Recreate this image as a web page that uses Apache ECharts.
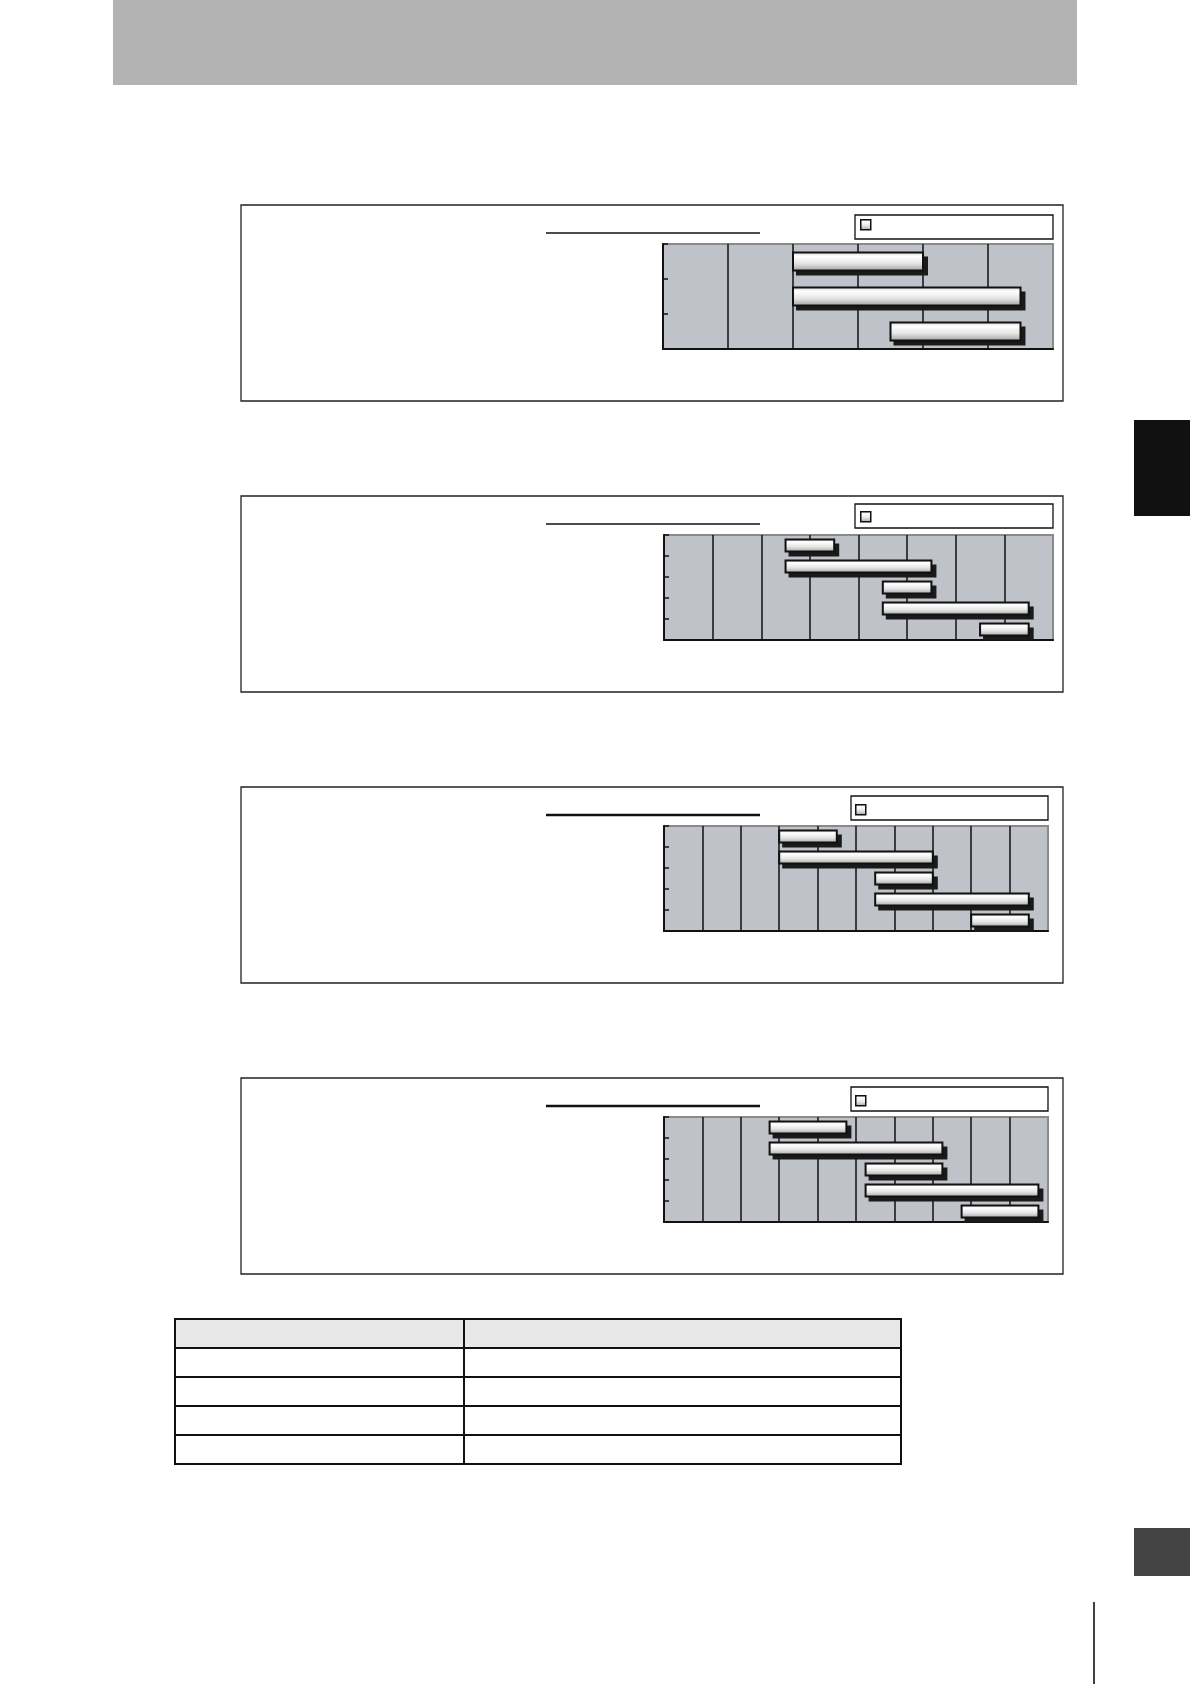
<!DOCTYPE html>
<html>
<head>
<meta charset="utf-8">
<script src="https://cdn.jsdelivr.net/npm/echarts@6/dist/echarts.min.js"></script>
<style>
  html, body { margin: 0; padding: 0; background: #fff; }
  #page { width: 1190px; height: 1684px; }
</style>
</head>
<body>
<div id="page"></div>
<script>
// chart 1 (3 rows, 6 columns)
var cats1 = ['1', '2', '3'];
var start1 = [2, 2, 3.5];
var end1 = [4, 5.5, 5.5];
var max1 = 6;

// chart 2 (5 rows, 8 columns)
var cats2 = ['1', '2', '3', '4', '5'];
var start2 = [2.5, 2.5, 4.5, 4.5, 6.5];
var end2 = [3.5, 5.5, 5.5, 7.5, 7.5];
var max2 = 8;

// chart 3 (5 rows, 10 columns)
var cats3 = ['1', '2', '3', '4', '5'];
var start3 = [3, 3, 5.5, 5.5, 8];
var end3 = [4.5, 7, 7, 9.5, 9.5];
var max3 = 10;

// chart 4 (5 rows, 10 columns)
var cats4 = ['1', '2', '3', '4', '5'];
var start4 = [2.75, 2.75, 5.25, 5.25, 7.75];
var end4 = [4.75, 7.25, 7.25, 9.75, 9.75];
var max4 = 10;

var charts = [
  { cats: cats1, start: start1, end: end1, max: max1, grid: [663, 244, 390, 105], bar: 18, box: [241, 205], legend: [856, 215, 855, 1053, 215], line: 233, lw: 1.5 },
  { cats: cats2, start: start2, end: end2, max: max2, grid: [664, 535, 389, 105], bar: 12, box: [241, 496], legend: [856, 507, 855, 1053, 504], line: 524, lw: 1.5 },
  { cats: cats3, start: start3, end: end3, max: max3, grid: [664, 826, 384, 105], bar: 12, box: [241, 787], legend: [851, 800, 851, 1048, 796], line: 815, lw: 2.5 },
  { cats: cats4, start: start4, end: end4, max: max4, grid: [664, 1117, 384, 105], bar: 12, box: [241, 1078], legend: [851, 1091, 851, 1048, 1087], line: 1106, lw: 2.5 }
];

function barFill() {
  return new echarts.graphic.LinearGradient(0, 0, 0, 1, [
    { offset: 0, color: '#d6d6d6' },
    { offset: 0.25, color: '#ffffff' },
    { offset: 0.6, color: '#e4e4e4' },
    { offset: 1, color: '#9c9c9c' }
  ]);
}

// floating bar with a hard drop shadow, placed through the axes
function makeRender(barH) {
  return function (params, api) {
    var a = api.coord([api.value(1), api.value(0)]);
    var b = api.coord([api.value(2), api.value(0)]);
    var x = a[0], w = b[0] - a[0], y = a[1] - barH / 2;
    return {
      type: 'group',
      children: [
        { type: 'rect', shape: { x: x + 3, y: y + 4, width: w + 2, height: barH + 1 }, style: { fill: '#1a1a1a' } },
        { type: 'rect', shape: { x: x, y: y, width: w, height: barH }, style: { fill: barFill(), stroke: '#111', lineWidth: 2 } }
      ]
    };
  };
}

var grids = [], xAxes = [], yAxes = [], series = [], legends = [];
var graphics = [
  // header band
  { type: 'rect', shape: { x: 113, y: 0, width: 964, height: 85 }, style: { fill: '#b3b3b3' } },
  // side tabs
  { type: 'rect', shape: { x: 1134, y: 420, width: 56, height: 96 }, style: { fill: '#111' } },
  { type: 'rect', shape: { x: 1134, y: 1528, width: 56, height: 48 }, style: { fill: '#444' } },
  { type: 'line', shape: { x1: 1094, y1: 1602, x2: 1094, y2: 1684 }, style: { stroke: '#000', lineWidth: 1.5 } }
];

charts.forEach(function (c, i) {
  grids.push({
    left: c.grid[0], top: c.grid[1], width: c.grid[2], height: c.grid[3],
    show: true, backgroundColor: '#bfc2c8', borderColor: '#8a8a8a', borderWidth: 2
  });
  var splitColors = [];
  for (var k = 0; k <= c.max; k++) {
    splitColors.push(k === c.max ? '#8a8a8a' : '#111');
  }
  xAxes.push({
    gridIndex: i, type: 'value', min: 0, max: c.max, interval: 1,
    axisLine: { show: true, lineStyle: { color: '#111', width: 2 } },
    axisTick: { show: false },
    axisLabel: { show: false },
    splitLine: { show: true, lineStyle: { color: splitColors, width: 1.5 } }
  });
  yAxes.push({
    gridIndex: i, type: 'category', data: c.cats, inverse: true,
    axisLine: { show: true, lineStyle: { color: '#111', width: 2 } },
    axisTick: { show: true, inside: true, length: 5, lineStyle: { color: '#111', width: 1.5 } },
    axisLabel: { show: false },
    splitLine: { show: false }
  });
  series.push({
    type: 'custom', name: 'range' + i, xAxisIndex: i, yAxisIndex: i,
    renderItem: makeRender(c.bar),
    encode: { x: [1, 2], y: 0 },
    itemStyle: { color: '#e8e8e8' },
    data: c.cats.map(function (name, j) { return [j, c.start[j], c.end[j]]; })
  });
  legends.push({
    data: ['range' + i], left: c.legend[0], top: c.legend[1], padding: 4,
    itemWidth: 10, itemHeight: 10, icon: 'rect',
    formatter: function () { return ''; },
    itemStyle: { color: barFill(), borderColor: '#111', borderWidth: 1.5 }
  });
  // outer frame, title underline, legend frame
  graphics.push({ type: 'rect', shape: { x: c.box[0], y: c.box[1], width: 822, height: 196 }, style: { fill: 'none', stroke: '#222', lineWidth: 1.3 } });
  graphics.push({ type: 'line', shape: { x1: 546, y1: c.line, x2: 760, y2: c.line }, style: { stroke: '#111', lineWidth: c.lw } });
  graphics.push({ type: 'rect', shape: { x: c.legend[2], y: c.legend[4], width: c.legend[3] - c.legend[2], height: 24 }, style: { fill: 'none', stroke: '#111', lineWidth: 1.3 } });
});

// table at the bottom
var tableRows = [1319, 1348, 1377, 1406, 1435, 1464];
graphics.push({ type: 'rect', shape: { x: 175, y: 1319, width: 726, height: 29 }, style: { fill: '#e8e8e8' } });
graphics.push({ type: 'rect', shape: { x: 175, y: 1319, width: 726, height: 145 }, style: { fill: 'none', stroke: '#111', lineWidth: 2 } });
for (var r = 1; r < tableRows.length - 1; r++) {
  graphics.push({ type: 'line', shape: { x1: 175, y1: tableRows[r], x2: 901, y2: tableRows[r] }, style: { stroke: '#111', lineWidth: 2 } });
}
graphics.push({ type: 'line', shape: { x1: 464, y1: 1319, x2: 464, y2: 1464 }, style: { stroke: '#111', lineWidth: 2 } });

var option = {
  animation: false,
  backgroundColor: '#fff',
  graphic: graphics,
  grid: grids,
  xAxis: xAxes,
  yAxis: yAxes,
  legend: legends,
  series: series
};

var myChart = echarts.init(document.getElementById('page'));
myChart.setOption(option);
</script>
</body>
</html>
